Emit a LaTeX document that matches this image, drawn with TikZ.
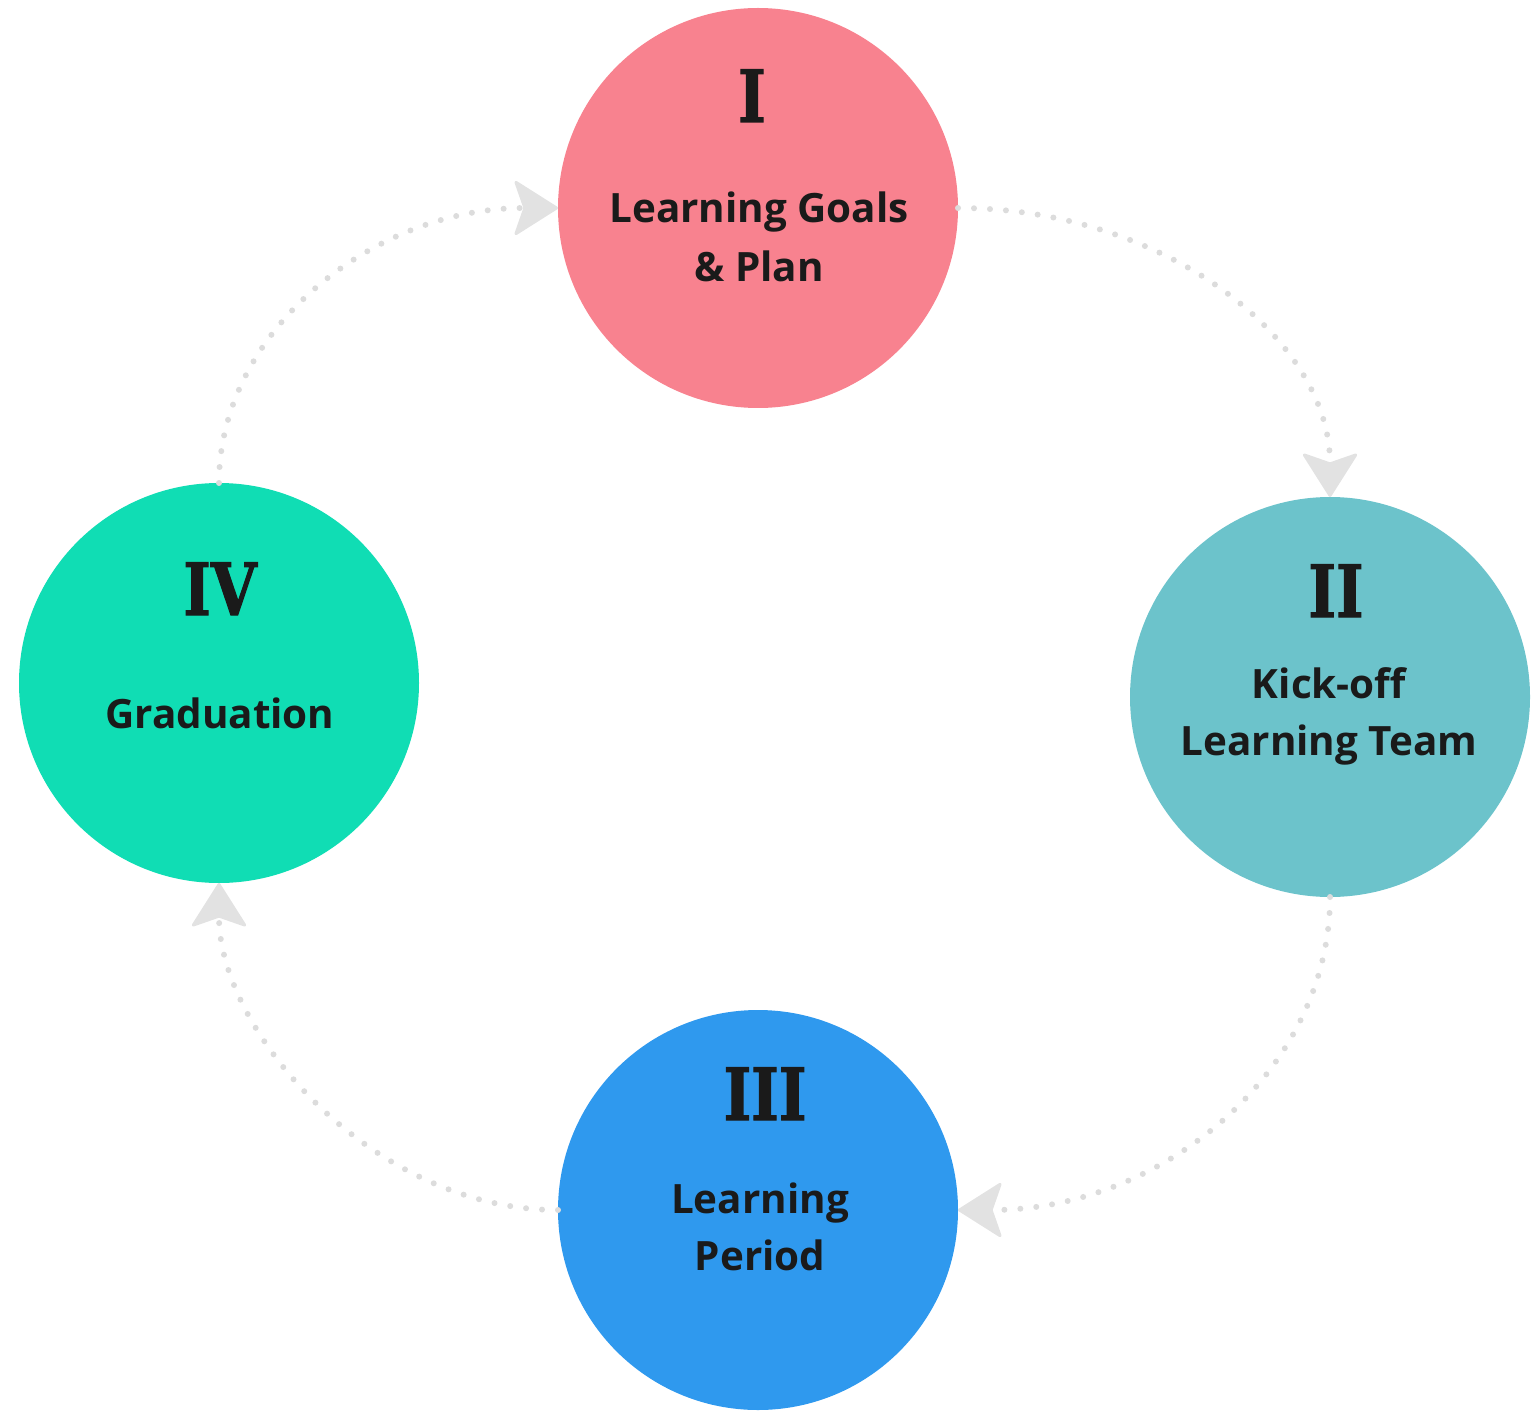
\documentclass[tikz,border=0pt]{standalone}
\usepackage{fontspec}
\setmainfont{Open Sans}
\newfontfamily\numfont{DejaVu Serif}[FakeStretch=0.82, FakeBold=1.5]
\usetikzlibrary{arrows.meta}
\definecolor{cI}{HTML}{F8828F}
\definecolor{cII}{HTML}{6CC3CB}
\definecolor{cIII}{HTML}{2F99EE}
\definecolor{cIV}{HTML}{10DDB4}
\definecolor{ink}{HTML}{1A1A1A}
\definecolor{dotc}{HTML}{DCDCDC}
\definecolor{arrc}{HTML}{E2E2E2}
\begin{document}
\begin{tikzpicture}[x=0.5pt,y=-0.5pt,
  phase/.style={circle, minimum size=200pt, inner sep=0pt, outer sep=0pt, draw=none},
  num/.style={font=\numfont\bfseries\fontsize{36}{40}\selectfont, text=ink, inner sep=0pt, anchor=base},
  lbl/.style={font=\bfseries\fontsize{20.2}{24}\selectfont, text=ink, inner sep=0pt, anchor=base},
  flow/.style={draw=dotc, line width=3pt, line cap=round, dash pattern=on 0pt off 8pt,
    -{Stealth[length=23pt, width=29pt, inset=5pt, round, line width=1.5pt, color=arrc]}}]
\useasboundingbox (0,0) rectangle (1534,1411);

\node[phase, fill=cI]   (p1) at (758,208)  {};
\node[phase, fill=cII]  (p2) at (1330,697) {};
\node[phase, fill=cIII] (p3) at (758,1210) {};
\node[phase, fill=cIV]  (p4) at (219,683)  {};

\node[num] (n1) at (752,122)  {I};
\node[lbl] (t1a) at (759,223) {Learning Goals};
\node[lbl] (t1b) at (759,282) {\& Plan};

\node[num] (n2) at (1336,617) {II};
\node[lbl] (t2a) at (1329,698) {Kick-off};
\node[lbl] (t2b) at (1329,755) {Learning Team};

\node[num] (n3) at (765,1120) {III};
\node[lbl] (t3a) at (760,1213) {Learning};
\node[lbl] (t3b) at (760,1270) {Period};

\node[num] (n4) at (220,615) {IV};
\node[lbl] (t4a) at (220,728) {Graduation};

\draw[flow] (p4.north) .. controls (219,332) and (372,208) .. (p1.west);
\draw[flow] (p1.east) .. controls (1163,208) and (1330,338) .. (p2.north);
\draw[flow] (p2.south) .. controls (1330,1070) and (1163,1210) .. (p3.east);
\draw[flow] (p3.west) .. controls (372,1210) and (219,1030) .. (p4.south);
\end{tikzpicture}
\end{document}
